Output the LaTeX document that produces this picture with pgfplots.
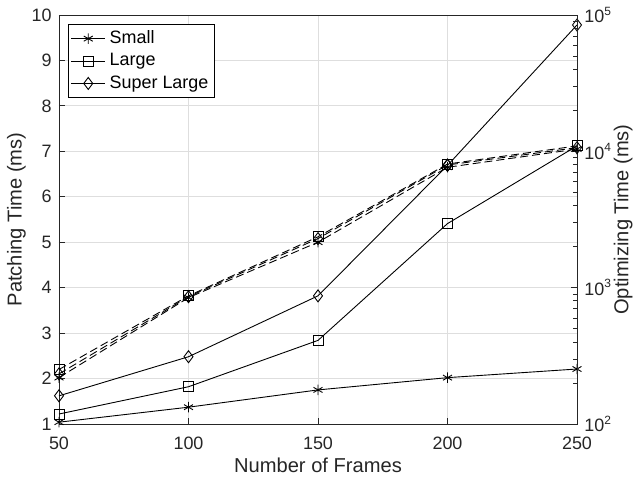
\documentclass[border=0pt]{standalone}
\usepackage{fontspec}
\setmainfont{Liberation Sans}
\usepackage{pgfplots}
\pgfplotsset{compat=1.18}
\definecolor{axc}{gray}{0.15}
\definecolor{gridc}{gray}{0.87}
\begin{document}
\fontsize{9}{11}\selectfont
\begin{tikzpicture}
\pgfplotsset{every axis/.append style={
  font=\fontsize{9}{11}\selectfont,
  /pgf/number format/assume math mode=true,
  scale only axis, width=259bp, height=204.5bp,
  xmin=50, xmax=250,
  tick align=inside,
  major tick length=3bp, minor tick length=1.8bp,
  axis line style={axc, line width=0.4pt},
  every tick/.style={axc, line width=0.4pt},
  tick label style={axc, font=\fontsize{9}{11}\selectfont},
  label style={axc, font=\fontsize{10.1}{12}\selectfont},
}}
\begin{axis}[
  name=ax,
  ymin=1, ymax=10, ytick={1,2,...,10},
  xtick={50,100,150,200,250},
  xtick pos=bottom, ytick pos=left,
  grid=major, grid style={gridc, line width=0.4pt},
  xticklabel style={anchor=center, yshift=-9.5bp},
  yticklabel style={anchor=east, xshift=-0.5bp},
  xlabel={Number of Frames}, ylabel={Patching Time (ms)},
  xlabel style={at={(axis description cs:0.5,-0.1)}, anchor=center},
  ylabel style={at={(axis description cs:-0.082,0.5)}, anchor=center},
  legend style={at={(axis description cs:0.0174,0.978)}, anchor=north west, draw=black, line width=0.4pt,
    font=\fontsize{9}{11}\selectfont, inner sep=1.2bp, row sep=-0.4bp,
    cells={anchor=west}},
  legend cell align=left,
]
\addplot[black, line width=0.45pt, mark=asterisk, mark size=2.6bp] coordinates {(50,1.04) (100,1.37) (150,1.75) (200,2.02) (250,2.21)};
\addlegendentry{Small}
\addplot[black, line width=0.45pt, mark=square, mark size=2.5bp] coordinates {(50,1.22) (100,1.82) (150,2.84) (200,5.41) (250,7.12)};
\addlegendentry{Large}
\addplot[black, line width=0.45pt, mark=diamond, mark size=3bp] coordinates {(50,1.62) (100,2.48) (150,3.82) (200,6.69) (250,9.78)};
\addlegendentry{Super Large}
\end{axis}
\begin{axis}[
  ymode=log, ymin=100, ymax=100000,
  axis y line*=right, axis x line=none,
  ytick={100,1000,10000,100000},
  yticklabels={10\textsuperscript{2},10\textsuperscript{3},10\textsuperscript{4},10\textsuperscript{5}},
  yticklabel style={anchor=west, xshift=0.5bp},
  ylabel={Optimizing Time (ms)},
  ylabel style={at={(axis description cs:1.089,0.5)}, anchor=center},
]
\addplot[black, line width=0.45pt, dash pattern=on 4bp off 2bp, mark=asterisk, mark size=2.6bp, mark options={solid}] coordinates {(50,219) (100,845) (150,2154) (200,7640) (250,10390)};
\addplot[black, line width=0.45pt, dash pattern=on 4bp off 2bp, mark=square, mark size=2.5bp, mark options={solid}] coordinates {(50,251) (100,871) (150,2362) (200,8070) (250,10960)};
\addplot[black, line width=0.45pt, dash pattern=on 4bp off 2bp, mark=diamond, mark size=3bp, mark options={solid}] coordinates {(50,233) (100,858) (150,2291) (200,7943) (250,10640)};
\end{axis}
\pgfresetboundingbox
\path[use as bounding box] ([shift={(-29.5bp,-26.5bp)}]ax.south west) rectangle ([shift={(30bp,7.5bp)}]ax.north east);
\end{tikzpicture}
\end{document}
